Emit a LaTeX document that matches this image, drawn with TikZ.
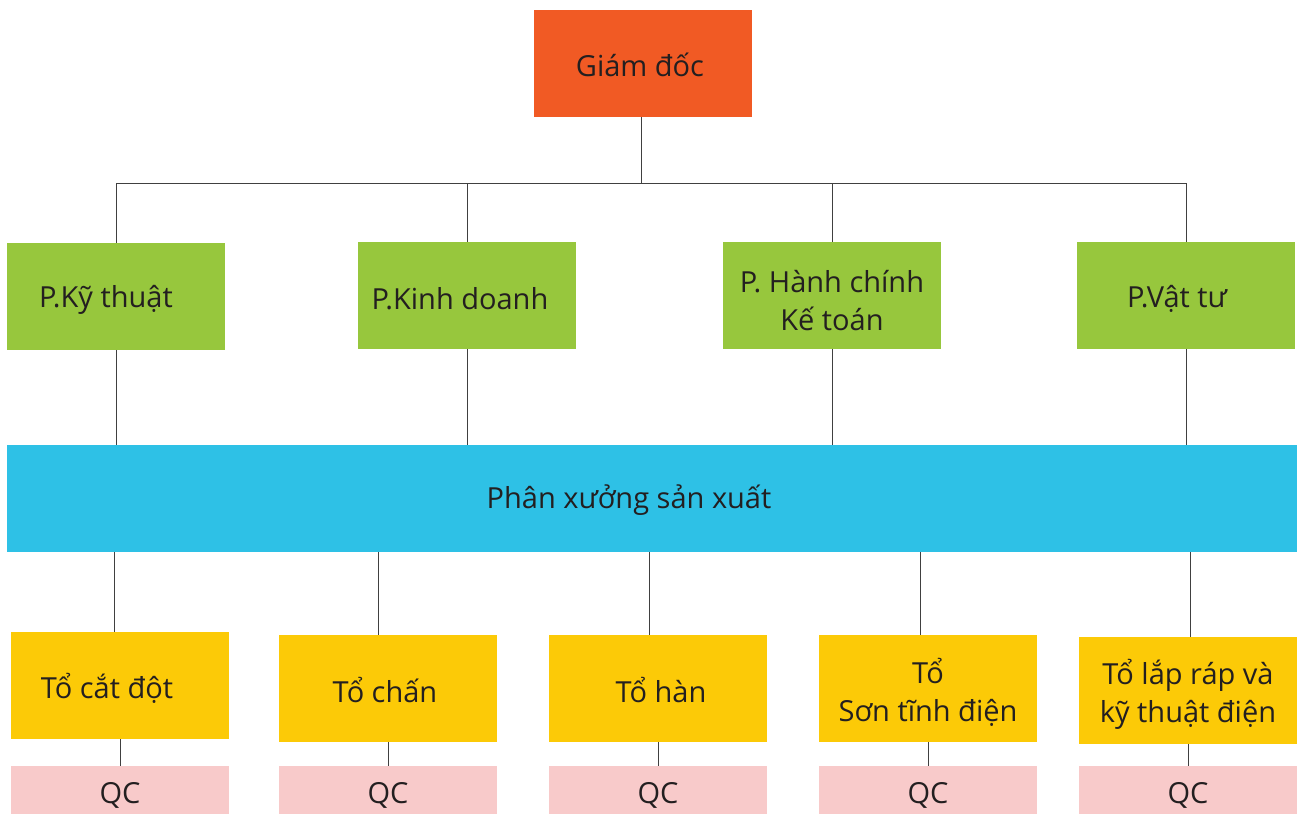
\documentclass[tikz,border=0pt]{standalone}
\usepackage{fontspec}
\setmainfont{Open Sans}
\usepackage{tikz}
\definecolor{bossred}{HTML}{F15A24}
\definecolor{deptgreen}{HTML}{97C73D}
\definecolor{shopblue}{HTML}{2EC1E6}
\definecolor{teamyellow}{HTML}{FCCA07}
\definecolor{qcpink}{HTML}{F8CACA}
\definecolor{inkgray}{HTML}{231F20}

\begin{document}
\begin{tikzpicture}
  [x=0.02cm,y=-0.02cm,
   every node/.style={inner sep=0pt,text=inkgray,align=center,
     font=\fontsize{16.5}{21.5}\selectfont},
   box/.style={minimum width=4.36cm,minimum height=2.14cm},
   qcbox/.style={fill=qcpink,minimum width=4.36cm,minimum height=0.96cm,
     label={[yshift=-0.1cm]center:QC}},
   link/.style={draw=black!75,line width=0.5pt}]

  \useasboundingbox (0,0) rectangle (1298,814);

  \node[box,fill=bossred,label={[xshift=-0.06cm,yshift=-0.03cm]center:Giám đốc}] (boss) at (643,63.5) {};

  \node[box,fill=deptgreen,label={[xshift=-0.2cm,yshift=-0.06cm]center:P.Kỹ thuật}] (d1) at (116,296.5) {};
  \node[box,fill=deptgreen,label={[xshift=-0.14cm,yshift=-0.06cm]center:P.Kinh doanh}] (d2) at (467,295.5) {};
  \node[box,fill=deptgreen,label={[yshift=-0.1cm]center:P. Hành chính\\Kế toán}] (d3) at (832,295.5) {};
  \node[box,fill=deptgreen,label={[xshift=-0.18cm,yshift=-0.06cm]center:P.Vật tư}] (d4) at (1186,295.5) {};

  \node[fill=shopblue,minimum width=25.8cm,minimum height=2.14cm,
    label={[xshift=-0.46cm,yshift=-0.04cm]center:Phân xưởng sản xuất}] (shop) at (652,498.5) {};

  \node[box,fill=teamyellow,label={[xshift=-0.26cm,yshift=-0.06cm]center:Tổ cắt đột}] (t1) at (120,685.5) {};
  \node[box,fill=teamyellow,label={[xshift=-0.06cm,yshift=-0.04cm]center:Tổ chấn}] (t2) at (388,688.5) {};
  \node[box,fill=teamyellow,label={[xshift=0.06cm,yshift=-0.04cm]center:Tổ hàn}] (t3) at (658,688.5) {};
  \node[box,fill=teamyellow,label={[yshift=-0.07cm]center:Tổ\\Sơn tĩnh điện}] (t4) at (928,688.5) {};
  \node[box,fill=teamyellow,label={[yshift=-0.07cm]center:Tổ lắp ráp và\\kỹ thuật điện}] (t5) at (1188,690.5) {};

  \node[qcbox] (q1) at (120,790) {};
  \node[qcbox] (q2) at (388,790) {};
  \node[qcbox] (q3) at (658,790) {};
  \node[qcbox] (q4) at (928,790) {};
  \node[qcbox] (q5) at (1188,790) {};

  \coordinate (bus) at (641,183);
  \draw[link] (boss.south -| bus) -- (bus);
  \draw[link] (d1.north) -- (d1.north |- bus) -- (d4.north |- bus) -- (d4.north);
  \foreach \d in {d2,d3}
    \draw[link] (\d.north) -- (\d.north |- bus);
  \foreach \d in {d1,d2,d3,d4}
    \draw[link] (\d.south) -- (\d.south |- shop.north);
  % drops to the teams sit a little left of the box centres
  \foreach \t/\dx in {t1/-6,t2/-10,t3/-9,t4/-8,t5/2}
    \draw[link] ([xshift=\dx*0.02cm]shop.south -| \t.north) -- ([xshift=\dx*0.02cm]\t.north);
  \foreach \t/\q in {t1/q1,t2/q2,t3/q3,t4/q4,t5/q5}
    \draw[link] (\t.south) -- (\q.north);
\end{tikzpicture}
\end{document}
